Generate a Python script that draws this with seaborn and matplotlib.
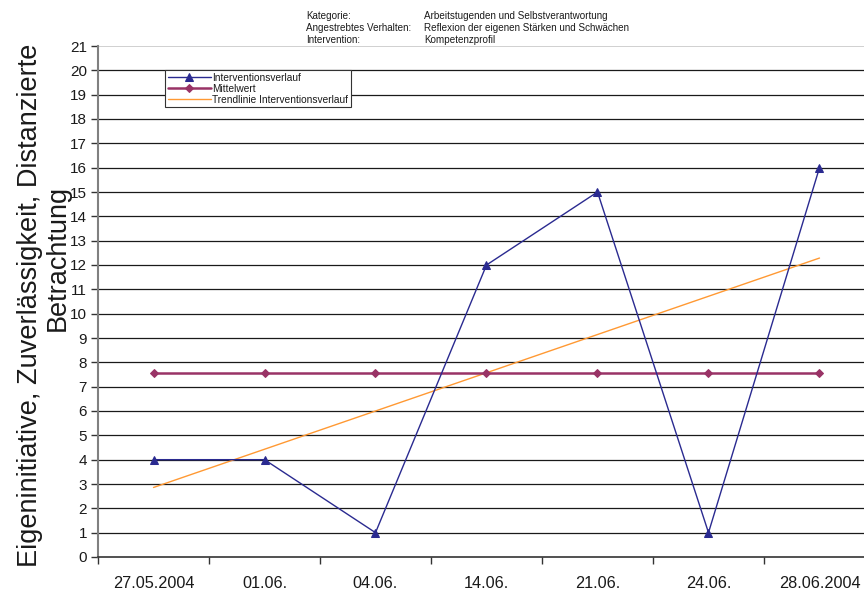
import numpy as np
import pandas as pd
import matplotlib
matplotlib.use("Agg")
import matplotlib.pyplot as plt
import seaborn as sns
from matplotlib.ticker import FixedLocator

# Observation dates and measured values
dates = ["27.05.2004", "01.06.", "04.06.", "14.06.", "21.06.", "24.06.", "28.06.2004"]
verlauf = [4, 4, 1, 12, 15, 1, 16]

pos = np.arange(len(dates))
mittelwert = np.full(len(dates), np.mean(verlauf))
slope, intercept = np.polyfit(pos + 1, verlauf, 1)
trend = intercept + slope * (pos + 1)

df = pd.DataFrame({"pos": pos, "verlauf": verlauf, "mittelwert": mittelwert, "trend": trend})

sns.set_theme(style="white")
plt.rcParams["font.family"] = ["Liberation Sans", "DejaVu Sans"]

W, H = 864, 590
fig = plt.figure(figsize=(W / 100, H / 100), dpi=100)
ax = fig.add_axes([98 / W, 1 - 557 / H, 777 / W, (557 - 46) / H])

blue = "#2a2a90"
plum = "#993366"
orange = "#ff9933"

# horizontal gridlines
for yv in range(1, 21):
    ax.axhline(yv, color="#1a1a1a", lw=0.9, zorder=0)
ax.axhline(21, color="#c8c8c8", lw=1.2, zorder=0)

sns.lineplot(data=df, x="pos", y="mittelwert", ax=ax, color=plum, lw=1.8,
             marker="D", markersize=4.5, markeredgecolor=plum, label="Mittelwert", zorder=3)
sns.lineplot(data=df, x="pos", y="trend", ax=ax, color=orange, lw=1.0,
             label="Trendlinie Interventionsverlauf", zorder=2)
sns.lineplot(data=df, x="pos", y="verlauf", ax=ax, color=blue, lw=1.0,
             marker="^", markersize=5.5, markeredgecolor=blue, label="Interventionsverlauf", zorder=4)

ax.set_xlim(-0.5, 6.5)
ax.set_ylim(0, 21)
ax.set_yticks(range(0, 22))
ax.set_xticks(pos)
ax.set_xticklabels(dates)
ax.xaxis.set_minor_locator(FixedLocator(np.arange(-0.5, 6.0, 1.0)))
ax.tick_params(axis="x", which="major", length=0, pad=14, labelsize=11.7, colors="#1a1a1a")
ax.tick_params(axis="x", which="minor", length=5, width=1.0, direction="out", color="#333333", bottom=True)
ax.tick_params(axis="y", length=5, width=1.0, direction="out", color="#333333", labelsize=11,
               colors="#1a1a1a", left=True, pad=3)
ax.set_xlabel("")
ax.set_ylabel("")

for side in ["top", "right"]:
    ax.spines[side].set_visible(False)
ax.spines["left"].set_color("#808080")
ax.spines["left"].set_linewidth(1.5)
ax.spines["bottom"].set_color("#333333")
ax.spines["bottom"].set_linewidth(1.2)

# legend in the order Interventionsverlauf, Mittelwert, Trendlinie
handles, labels = ax.get_legend_handles_labels()
order = [labels.index(l) for l in ["Interventionsverlauf", "Mittelwert", "Trendlinie Interventionsverlauf"]]
ax.legend_.remove()
leg = fig.legend([handles[i] for i in order], [labels[i] for i in order],
                 loc="upper left", bbox_to_anchor=(165 / W, 1 - 70 / H),
                 fontsize=7.3, frameon=True, fancybox=False, edgecolor="#333333",
                 framealpha=1, borderpad=0.25, labelspacing=0.1, handlelength=4.3,
                 handletextpad=0.1, borderaxespad=0)
leg.get_frame().set_linewidth(0.8)
for t in leg.get_texts():
    t.set_color("#1a1a1a")

# header block
header = [("Kategorie:", "Arbeitstugenden und Selbstverantwortung"),
          ("Angestrebtes Verhalten:", "Reflexion der eigenen Stärken und Schwächen"),
          ("Intervention:", "Kompetenzprofil")]
for i, (k, v) in enumerate(header):
    yy = 1 - (16 + 12.2 * i) / H
    fig.text(306 / W, yy, k, fontsize=7.1, va="center", ha="left", color="#1a1a1a")
    fig.text(424 / W, yy, v, fontsize=7.1, va="center", ha="left", color="#1a1a1a")

# y-axis title, two lines
fig.text(30 / W, 1 - 305 / H, "Eigeninitiative, Zuverlässigkeit, Distanzierte",
         rotation=90, fontsize=19.5, ha="center", va="center", color="#1a1a1a")
fig.text(58 / W, 1 - 258 / H, "Betrachtung",
         rotation=90, fontsize=19.5, ha="center", va="center", color="#1a1a1a")

fig.savefig("out.png", dpi=100, facecolor="white")
